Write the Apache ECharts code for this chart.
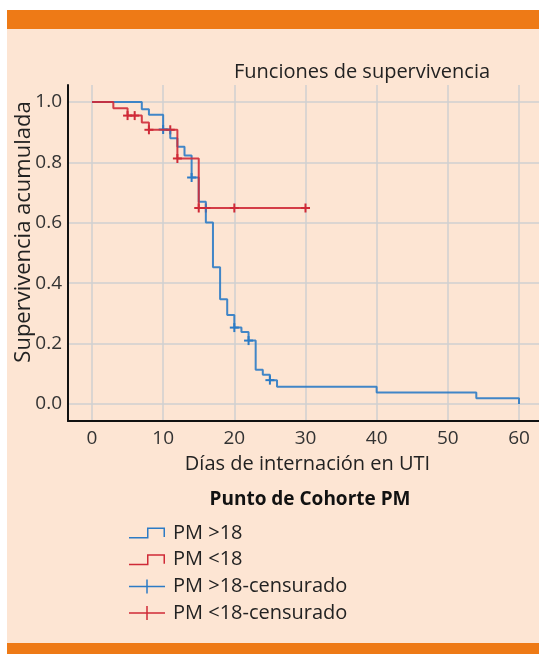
<!DOCTYPE html>
<html>
<head>
<meta charset="utf-8">
<title>Funciones de supervivencia</title>
<script src="https://cdn.jsdelivr.net/npm/echarts@6/dist/echarts.min.js"></script>
<style>
  html, body { margin: 0; padding: 0; background: #ffffff; }
  #frame {
    position: absolute; left: 7px; top: 10px; width: 532px; height: 614px;
    background: #fde5d3; border-top: 19px solid #ee7a16; border-bottom: 11px solid #ee7a16;
  }
  #chart { position: absolute; left: 0; top: 0; width: 539px; height: 654px; }
</style>
</head>
<body>
<div id="frame"></div>
<div id="chart"></div>
<script>
// Kaplan-Meier steps (time in days, cumulative survival)
var blueTimes = [0, 7, 8, 10, 11, 12, 13, 14, 15, 16, 17, 18, 19, 20, 21, 22, 23, 24, 25, 26, 40, 54, 60];
var blueSurv  = [1.0, 0.976, 0.958, 0.909, 0.88, 0.852, 0.823, 0.75, 0.67, 0.601, 0.453, 0.347, 0.295, 0.253, 0.238, 0.21, 0.113, 0.097, 0.079, 0.057, 0.038, 0.019, 0.0];
var redTimes  = [0, 3, 5, 7, 8, 12, 15, 30];
var redSurv   = [1.0, 0.979, 0.955, 0.932, 0.908, 0.813, 0.649, 0.649];

// censored observations
var blueCensTimes = [10, 14, 20, 22, 25];
var blueCensSurv  = [0.909, 0.75, 0.253, 0.21, 0.079];
var redCensTimes  = [5, 6, 8, 11, 12, 15, 16, 20, 30];
var redCensSurv   = [0.955, 0.955, 0.908, 0.908, 0.813, 0.649, 0.649, 0.649, 0.649];

var seriesNames = ['PM >18', 'PM <18', 'PM >18-censurado', 'PM <18-censurado'];
var blue = '#2c7bc5';
var red = '#cf2a37';
var font = 'Open Sans';

function pairs(xs, ys) {
    return xs.map(function (x, i) { return [x, ys[i]]; });
}

function crossItem(color) {
    return function (params, api) {
        var p = api.coord([api.value(0), api.value(1)]);
        var st = { stroke: color, lineWidth: 2 };
        return {
            type: 'group',
            children: [
                { type: 'line', shape: { x1: p[0] - 4.5, y1: p[1], x2: p[0] + 4.5, y2: p[1] }, style: st },
                { type: 'line', shape: { x1: p[0], y1: p[1] - 4.5, x2: p[0], y2: p[1] + 4.5 }, style: st }
            ]
        };
    };
}

// legend icons, 36 x 14 box (corner points keep the box size)
var stepIcon = 'path://M0,0L0,0ZM0,11L18,11L18,1.5L36,1.5L36,11L34.5,11L34.5,3L19.5,3L19.5,12.5L0,12.5ZM36,14L36,14Z';
var crossIcon = 'path://M0,6.25L17.25,6.25L17.25,0L18.75,0L18.75,6.25L36,6.25L36,7.75L18.75,7.75L18.75,14L17.25,14L17.25,7.75L0,7.75Z';

var chart = echarts.init(document.getElementById('chart'));
chart.setOption({
    backgroundColor: 'transparent',
    animation: false,
    title: [
        {
            text: 'Funciones de supervivencia',
            left: 357, top: 57, textAlign: 'center',
            textStyle: { fontFamily: font, fontSize: 20, fontWeight: 'normal', color: '#222' }
        },
        {
            text: 'Punto de Cohorte PM',
            left: 305, top: 485, textAlign: 'center',
            textStyle: { fontFamily: font, fontSize: 19, fontWeight: 'bold', color: '#111' }
        }
    ],
    legend: {
        orient: 'vertical',
        left: 129, top: 523, padding: 0,
        itemWidth: 36, itemHeight: 14, itemGap: 6.7,
        textStyle: { fontFamily: font, fontSize: 20, color: '#222', lineHeight: 20, padding: [0, 0, 0, 3] },
        data: [
            { name: seriesNames[0], icon: stepIcon, itemStyle: { color: blue, borderWidth: 0 } },
            { name: seriesNames[1], icon: stepIcon, itemStyle: { color: red, borderWidth: 0 } },
            { name: seriesNames[2], icon: crossIcon, itemStyle: { color: blue, borderWidth: 0 } },
            { name: seriesNames[3], icon: crossIcon, itemStyle: { color: red, borderWidth: 0 } }
        ]
    },
    grid: { left: 68, right: 0, top: 85, height: 336, outerBoundsMode: 'none', containLabel: false },
    xAxis: {
        type: 'value',
        min: -3.37, max: 62.81,
        splitNumber: 7, minInterval: 10, maxInterval: 10,
        name: 'Días de internación en UTI',
        nameLocation: 'middle', nameGap: 33,
        nameTextStyle: { fontFamily: font, fontSize: 20, color: '#222', padding: [0, 0, 0, 8] },
        axisLine: { show: true, onZero: false, lineStyle: { color: '#111', width: 2 } },
        axisTick: { show: false },
        axisLabel: { fontFamily: font, fontSize: 19, color: '#333', margin: 8, showMinLabel: false, showMaxLabel: false },
        splitLine: { show: true, showMinLine: false, showMaxLine: false, lineStyle: { color: '#cfcfd0', width: 1.5 } }
    },
    yAxis: {
        type: 'value',
        min: -0.0563, max: 1.0563,
        splitNumber: 5, minInterval: 0.2, maxInterval: 0.2,
        name: 'Supervivencia acumulada',
        nameLocation: 'middle', nameGap: 33, nameMoveOverlap: false,
        nameTextStyle: { fontFamily: font, fontSize: 22, color: '#222', padding: [0, 0, 0, 42] },
        axisLine: { show: true, onZero: false, lineStyle: { color: '#111', width: 2 } },
        axisTick: { show: false },
        axisLabel: {
            fontFamily: font, fontSize: 19, color: '#333', margin: 6,
            showMinLabel: false, showMaxLabel: false,
            formatter: function (v) { return v.toFixed(1); }
        },
        splitLine: { show: true, showMinLine: false, showMaxLine: false, lineStyle: { color: '#cfcfd0', width: 1.5 } }
    },
    series: [
        {
            name: seriesNames[0], type: 'line', step: 'end', symbol: 'none',
            data: pairs(blueTimes, blueSurv),
            itemStyle: { color: blue },
            lineStyle: { color: blue, width: 2, opacity: 0.9 }
        },
        {
            name: seriesNames[1], type: 'line', step: 'end', symbol: 'none',
            data: pairs(redTimes, redSurv),
            itemStyle: { color: red },
            lineStyle: { color: red, width: 2, opacity: 0.9 }
        },
        {
            name: seriesNames[2], type: 'custom',
            data: pairs(blueCensTimes, blueCensSurv),
            itemStyle: { color: blue },
            renderItem: crossItem(blue)
        },
        {
            name: seriesNames[3], type: 'custom',
            data: pairs(redCensTimes, redCensSurv),
            itemStyle: { color: red },
            renderItem: crossItem(red)
        }
    ]
});
</script>
</body>
</html>
